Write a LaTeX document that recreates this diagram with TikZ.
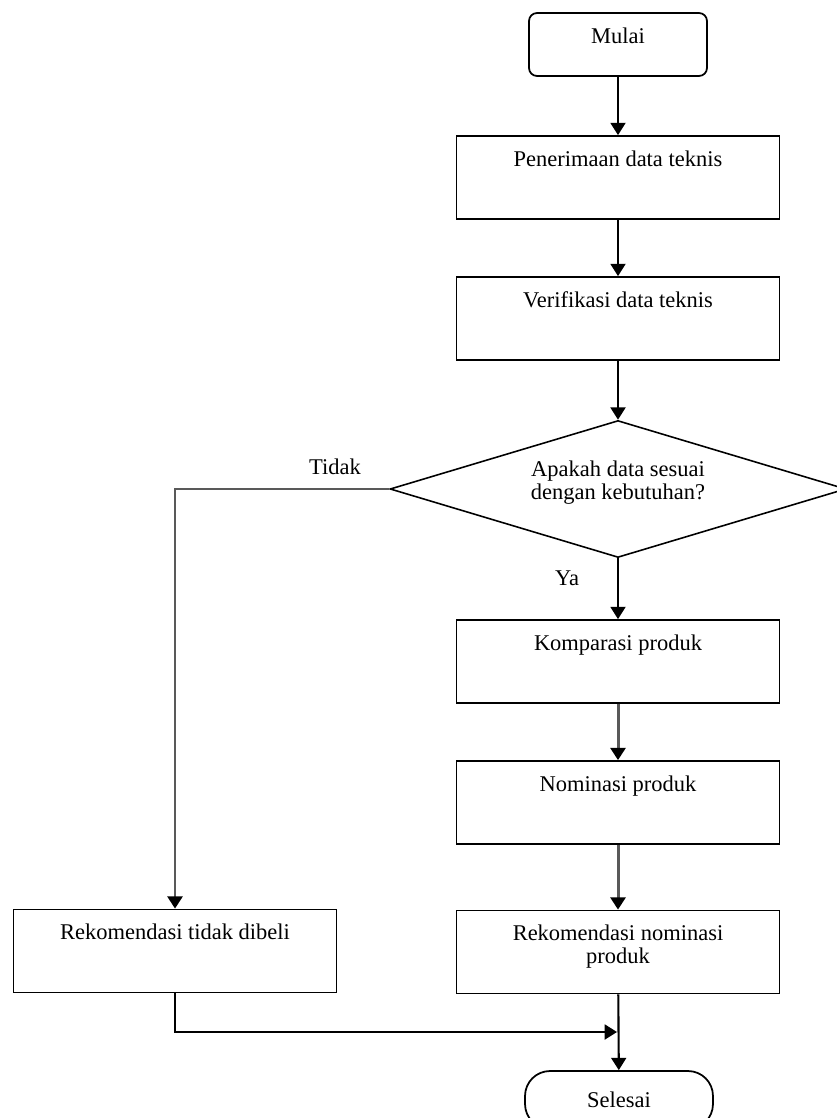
\documentclass[tikz,border=0pt]{standalone}
\usepackage{fontspec}
\setmainfont{Liberation Serif}
\usetikzlibrary{shapes.geometric,arrows.meta}
\tikzset{
	proses/.style={draw, line width=1pt, minimum width=6.46cm, minimum height=1.66cm, inner sep=0pt},
	awal/.style={draw, line width=1pt, rounded corners=0.16cm, minimum width=3.56cm, minimum height=1.26cm, inner sep=0pt},
	akhir/.style={draw, line width=1pt, rounded corners=0.5cm, minimum width=3.76cm, minimum height=1.16cm, inner sep=0pt},
	keputusan/.style={draw, line width=0.9pt, diamond, aspect=3.34, minimum width=9.12cm, minimum height=2.74cm, inner sep=0pt},
	teks/.style={anchor=north, inner sep=0pt, yshift=-0.3cm, align=center},
	panah/.style={line width=1.2pt, -{Triangle[width=8.5pt,length=7pt,color=black]}},
	abu/.style={draw=black!65, line width=1.7pt}
}
\begin{document}
\begin{tikzpicture}[x=0.02cm, y=-0.02cm, font=\fontsize{12.8}{13.1}\selectfont]
\useasboundingbox (0,0) rectangle (837,1118);
%Right column
	\node[awal, label={[teks]north:Mulai}] (mulai) at (618,44.5) {};
	\node[proses, label={[teks]north:Penerimaan data teknis}] (terima) at (618,177.5) {};
	\node[proses, label={[teks]north:Verifikasi data teknis}] (verif) at (618,318.5) {};
	\node[keputusan, label={[align=center, yshift=0.12cm]center:Apakah data sesuai\\dengan kebutuhan?}] (cek) at (618,489) {};
	\node[proses, label={[teks]north:Komparasi produk}] (banding) at (618,661.5) {};
	\node[proses, label={[teks]north:Nominasi produk}] (nominasi) at (618,802.5) {};
	\node[proses, label={[teks]north:Rekomendasi nominasi\\produk}] (rekom) at (618,952) {};
	\node[akhir] (selesai) at (619,1100) {Selesai};
%Left column
	\node[proses, label={[teks]north:Rekomendasi tidak dibeli}] (tolak) at (175,951) {};
	\coordinate (gabung) at (617,1032);
%Labels
	\node (tidak) at (335,467) {Tidak};
	\node (ya) at (567,578) {Ya};
%Arrows
	\draw[panah] (mulai) -- (terima);
	\draw[panah] (terima) -- (verif);
	\draw[panah] (verif) -- (cek);
	\draw[panah] (cek) -- (banding);
	\draw[panah, abu] (banding) -- (nominasi);
	\draw[panah, abu] (nominasi) -- (rekom);
	\draw[panah, abu] (cek.west) -| (tolak.north);
	\draw[panah] (tolak.south) |- (gabung);
	\draw[panah] (rekom) -- (selesai);
\end{tikzpicture}
\end{document}
